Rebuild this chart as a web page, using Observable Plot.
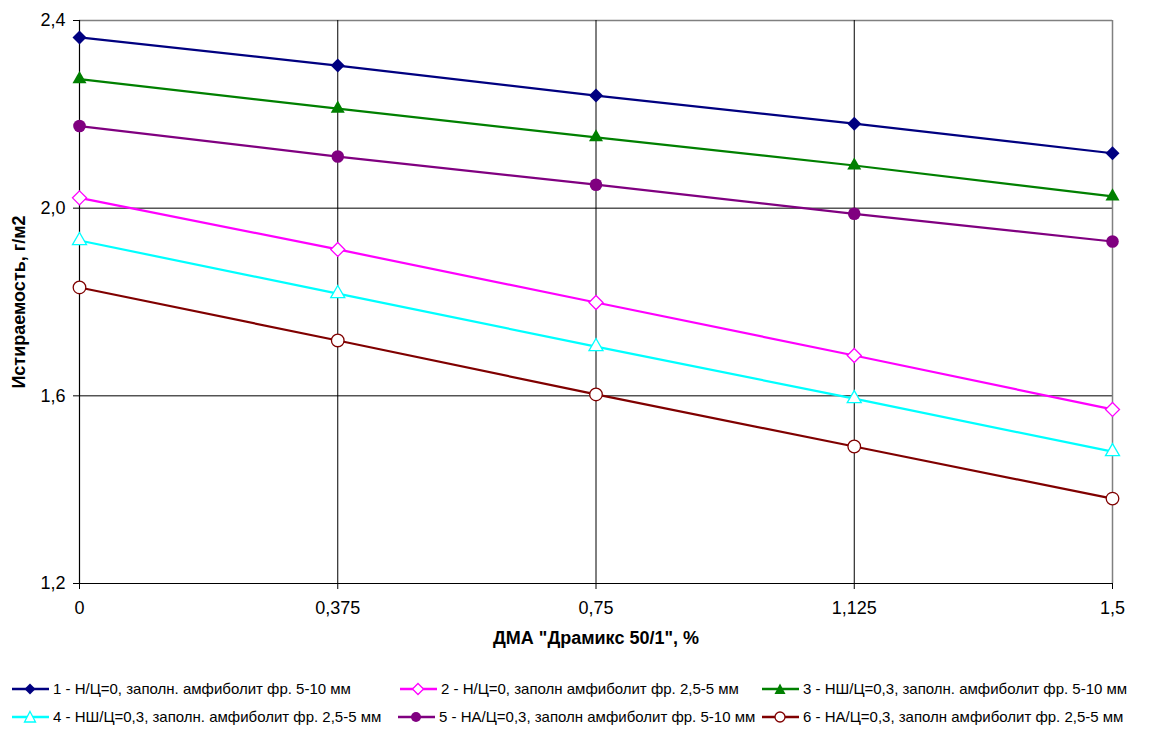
<!DOCTYPE html>
<html>
<head>
<meta charset="utf-8">
<script src="https://cdn.jsdelivr.net/npm/d3@7"></script>
<script src="https://cdn.jsdelivr.net/npm/@observablehq/plot@0.6"></script>
<style>
  html, body { margin: 0; padding: 0; background: #fff; }
  body { width: 1169px; height: 729px; position: relative; overflow: hidden; font-family: "Liberation Sans", Arial, sans-serif; }
  #chart { position: absolute; left: 0; top: 0; }
  #legend { position: absolute; left: 0; top: 680px; width: 1169px; height: 49px; }
  .item { position: absolute; display: flex; align-items: center; font-size: 15px; color: #000; white-space: nowrap; }
  .item svg { margin-right: 4px; }
</style>
</head>
<body>
<div id="chart"></div>
<div id="legend"></div>
<script>
// ---- data ----
const xValues = [0, 0.375, 0.75, 1.125, 1.5];
const xTickLabels = ["0", "0,375", "0,75", "1,125", "1,5"];
const yTicks = [1.2, 1.6, 2.0, 2.4];
const yTickLabels = ["1,2", "1,6", "2,0", "2,4"];

const series1 = [2.364, 2.304, 2.240, 2.180, 2.117];
const series2 = [2.022, 1.912, 1.799, 1.686, 1.571];
const series3 = [2.275, 2.212, 2.151, 2.091, 2.025];
const series4 = [1.931, 1.818, 1.705, 1.594, 1.481];
const series5 = [2.175, 2.110, 2.050, 1.988, 1.929];
const series6 = [1.831, 1.718, 1.603, 1.492, 1.381];

const seriesNames = [
  "1 - Н/Ц=0, заполн. амфиболит фр. 5-10 мм",
  "2 - Н/Ц=0, заполн амфиболит фр. 2,5-5 мм",
  "3 - НШ/Ц=0,3, заполн. амфиболит фр. 5-10 мм",
  "4 - НШ/Ц=0,3, заполн. амфиболит фр. 2,5-5 мм",
  "5 - НА/Ц=0,3, заполн амфиболит фр. 5-10 мм",
  "6 - НА/Ц=0,3, заполн амфиболит фр. 2,5-5 мм"
];
const seriesColors = ["#000080", "#FF00FF", "#008000", "#00FFFF", "#800080", "#800000"];
const seriesSymbols = ["diamond2", "diamond2", "triangle", "triangle", "circle", "circle"];
const seriesFilled = [true, false, true, false, true, false];

const xTitle = "ДМА \"Драмикс 50/1\", %";
const yTitle = "Истираемость, г/м2";

// ---- build table ----
const allSeries = [series1, series2, series3, series4, series5, series6];
const rows = [];
allSeries.forEach((vals, si) => {
  vals.forEach((v, i) => rows.push({ s: si, x: xValues[i], y: v }));
});

const marks = [
  Plot.ruleY([2.0, 1.6], { stroke: "#000", strokeWidth: 1 }),
  Plot.ruleY([2.4], { stroke: "#808080", strokeWidth: 1.5 }),
  Plot.ruleX([0.375, 0.75, 1.125], { stroke: "#000", strokeWidth: 1 }),
  Plot.ruleX([1.5], { stroke: "#808080", strokeWidth: 1.5 }),
  Plot.ruleX([0], { stroke: "#000", strokeWidth: 1.2 }),
  Plot.ruleY([1.2], { stroke: "#000", strokeWidth: 1.2 }),
  Plot.axisY({ ticks: yTicks, tickFormat: (d) => yTickLabels[yTicks.indexOf(d)], tickSize: 6, tickPadding: 8, fontSize: 18, label: null, stroke: "#000" }),
  Plot.axisX({ ticks: xValues, tickFormat: (d) => xTickLabels[xValues.indexOf(d)], tickSize: 6, tickPadding: 12, fontSize: 18, label: null, stroke: "#000" })
];

allSeries.forEach((vals, si) => {
  const data = rows.filter((r) => r.s === si);
  marks.push(Plot.line(data, { x: "x", y: "y", stroke: seriesColors[si], strokeWidth: 2.2 }));
});
allSeries.forEach((vals, si) => {
  const data = rows.filter((r) => r.s === si);
  marks.push(Plot.dot(data, {
    x: "x", y: "y",
    symbol: seriesSymbols[si],
    r: seriesSymbols[si] === "triangle" ? 5.2 : 6.3,
    fill: seriesFilled[si] ? seriesColors[si] : "#fff",
    stroke: seriesColors[si],
    strokeWidth: seriesFilled[si] ? 0 : 1.3
  }));
});

marks.push(Plot.text([xTitle], { frameAnchor: "bottom", dy: 60, text: (d) => d, fontSize: 18, fontWeight: "bold", fill: "#000", textAnchor: "middle" }));
marks.push(Plot.text([yTitle], { frameAnchor: "left", dx: -60, rotate: -90, text: (d) => d, fontSize: 18, fontWeight: "bold", fill: "#000", textAnchor: "middle" }));

const chart = Plot.plot({
  width: 1169,
  height: 660,
  marginLeft: 79,
  marginRight: 57,
  marginTop: 20,
  marginBottom: 77,
  style: { fontFamily: "'Liberation Sans', Arial, sans-serif", color: "#000", background: "#fff" },
  x: { domain: [0, 1.5] },
  y: { domain: [1.2, 2.4] },
  marks
});
document.getElementById("chart").appendChild(chart);

// ---- legend ----
const legendPos = [
  [12, 0], [400, 0], [762, 0],
  [12, 28], [398, 28], [762, 28]
];
const legend = document.getElementById("legend");
function markerSvg(si) {
  const c = seriesColors[si];
  const f = seriesFilled[si] ? c : "#fff";
  const sw = seriesFilled[si] ? 0 : 1.3;
  let shape;
  if (seriesSymbols[si] === "diamond2") shape = `<path d="M18,1.5L23.5,7L18,12.5L12.5,7Z" fill="${f}" stroke="${c}" stroke-width="${sw}"/>`;
  else if (seriesSymbols[si] === "triangle") shape = `<path d="M18,1.5L23.5,12L12.5,12Z" fill="${f}" stroke="${c}" stroke-width="${sw}"/>`;
  else shape = `<circle cx="18" cy="7" r="5" fill="${f}" stroke="${c}" stroke-width="${sw}"/>`;
  return `<svg width="37" height="14" viewBox="0 0 37 14"><line x1="0" y1="7" x2="37" y2="7" stroke="${c}" stroke-width="2.5"/>${shape}</svg>`;
}
seriesNames.forEach((name, si) => {
  const d = document.createElement("div");
  d.className = "item";
  d.style.left = legendPos[si][0] + "px";
  d.style.top = legendPos[si][1] + "px";
  d.innerHTML = markerSvg(si) + "<span>" + name + "</span>";
  legend.appendChild(d);
});
</script>
</body>
</html>
